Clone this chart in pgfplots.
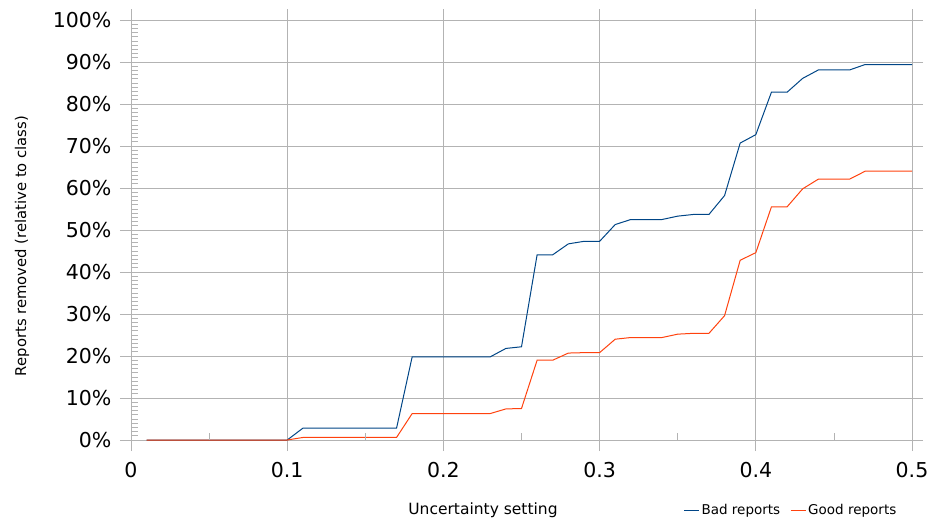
\documentclass[border=0pt]{standalone}
\usepackage{pgfplots}
\pgfplotsset{compat=1.18}
\usepackage{fontspec}
\setmainfont{DejaVu Sans}
\definecolor{badc}{HTML}{004586}
\definecolor{goodc}{HTML}{FF420E}
\definecolor{gridc}{HTML}{B3B3B3}
\begin{document}
\begin{tikzpicture}
\path[use as bounding box] (-131pt,-83pt) rectangle (801pt,440pt);
\begin{axis}[
  scale only axis, width=781pt, height=420pt,
  xmin=0, xmax=0.5, ymin=0, ymax=1,
  axis line style={gridc},
  grid=major, major grid style={gridc, line width=0.8pt},
  tick align=outside, major tick length=11pt,
  tick style={gridc, line width=0.8pt},
  xtick={0,0.1,0.2,0.3,0.4,0.5},
  xticklabels={0,0.1,0.2,0.3,0.4,0.5},
  ytick={0,0.1,0.2,0.3,0.4,0.5,0.6,0.7,0.8,0.9,1},
  yticklabels={0\%,10\%,20\%,30\%,40\%,50\%,60\%,70\%,80\%,90\%,100\%},
  ticklabel style={font=\fontsize{20.5}{24}\selectfont, text=black},
  xticklabel style={yshift=-8pt},
  yticklabel style={xshift=-5pt},
  xlabel={Uncertainty setting},
  ylabel={Reports removed (relative to class)},
  xlabel style={font=\fontsize{15.5}{18}\selectfont, at={(axis description cs:0.4507,-0.1667)}, anchor=center},
  ylabel style={font=\fontsize{14.8}{18}\selectfont, at={(axis description cs:-0.1396,0.462)}, anchor=center, rotate=0},
  legend columns=2,
  legend style={draw=none, fill=none, font=\fontsize{13.5}{16}\selectfont,
    at={(axis description cs:0.845,-0.1667)}, anchor=center,
    /tikz/every even column/.append style={column sep=8pt}},
  legend image code/.code={\draw[#1] (0pt,0pt) -- (15pt,0pt);},
]
\addplot[badc, line width=1pt] table[x=x, y=y] {
x y
0.01 0
0.02 0
0.03 0
0.04 0
0.05 0
0.06 0
0.07 0
0.08 0
0.09 0
0.10 0
0.11 0.028
0.12 0.028
0.13 0.028
0.14 0.028
0.15 0.028
0.16 0.028
0.17 0.028
0.18 0.198
0.19 0.198
0.20 0.198
0.21 0.198
0.22 0.198
0.23 0.198
0.24 0.218
0.25 0.222
0.26 0.441
0.27 0.441
0.28 0.467
0.29 0.473
0.30 0.473
0.31 0.513
0.32 0.525
0.33 0.525
0.34 0.525
0.35 0.533
0.36 0.537
0.37 0.537
0.38 0.582
0.39 0.707
0.40 0.727
0.41 0.828
0.42 0.828
0.43 0.861
0.44 0.881
0.45 0.881
0.46 0.881
0.47 0.894
0.48 0.894
0.49 0.894
0.50 0.894
};
\addlegendentry{Bad reports}
\addplot[goodc, line width=1pt] table[x=x, y=y] {
x y
0.01 0
0.02 0
0.03 0
0.04 0
0.05 0
0.06 0
0.07 0
0.08 0
0.09 0
0.10 0
0.11 0.006
0.12 0.006
0.13 0.006
0.14 0.006
0.15 0.006
0.16 0.006
0.17 0.006
0.18 0.063
0.19 0.063
0.20 0.063
0.21 0.063
0.22 0.063
0.23 0.063
0.24 0.074
0.25 0.075
0.26 0.190
0.27 0.190
0.28 0.207
0.29 0.208
0.30 0.208
0.31 0.240
0.32 0.244
0.33 0.244
0.34 0.244
0.35 0.252
0.36 0.254
0.37 0.254
0.38 0.296
0.39 0.428
0.40 0.446
0.41 0.555
0.42 0.555
0.43 0.598
0.44 0.621
0.45 0.621
0.46 0.621
0.47 0.640
0.48 0.640
0.49 0.640
0.50 0.640
};
\addlegendentry{Good reports}
\end{axis}
\begin{axis}[
  scale only axis, width=781pt, height=420pt,
  xmin=0, xmax=0.5, ymin=0, ymax=1,
  axis line style={draw=none},
  tick align=inside, major tick length=0pt, minor tick length=7pt,
  tick style={gridc, line width=0.8pt},
  xtick={0,0.1,0.2,0.3,0.4,0.5}, minor x tick num=1,
  ytick={0,0.1,0.2,0.3,0.4,0.5,0.6,0.7,0.8,0.9,1}, minor y tick num=9,
  xticklabels={}, yticklabels={},
  xtick pos=bottom, ytick pos=left,
]
\end{axis}
\end{tikzpicture}
\end{document}
